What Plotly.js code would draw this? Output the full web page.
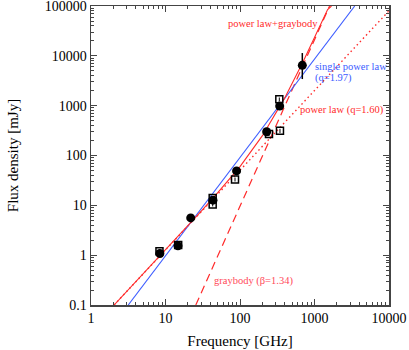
<!DOCTYPE html>
<html><head><meta charset="utf-8">
<script src="https://cdn.plot.ly/plotly-3.0.1.min.js"></script>
<style>html,body{margin:0;padding:0;background:#fff}#chart{width:409px;height:350px}</style>
</head><body><div id="chart"></div>
<script>
// Measured data (filled circles)
const circNu = [8.4, 14.7, 21.8, 43.4, 90, 228, 341, 686];
const circF  = [1.08, 1.54, 5.6, 12.7, 49, 299, 980, 6440];
const circErrPlus  = [0.08, 0.15, 0.3, 0.8, 3, 20, 60, 4940];
const circErrMinus = [0.08, 0.25, 0.3, 0.8, 3, 20, 60, 3020];
// Measured data (open squares)
const sqNu = [8.3, 14.8, 43, 43, 85.7, 245, 344, 337];
const sqF  = [1.2, 1.6, 14.1, 10.4, 33.1, 269, 313, 1340];
const sqErr = [0.1, 0.15, 1.2, 0.9, 3, 25, 30, 120];
// Model curves
const singlePLNu = [3.16, 3470];
const singlePLF  = [0.1, 100000];
const plNu = [2.04, 10000];
const plF  = [0.1, 80000];
const gbNu = [25.5, 50, 100, 200, 400, 1000, 1594];
const gbF  = [0.1, 0.95, 9.6, 97, 984, 20960, 100000];
const sumNu = [2.04, 10, 30, 50, 100, 200, 345, 400, 700, 1000, 1500, 1690];
const sumF  = [0.1, 1.27, 7.55, 17.7, 60, 250, 967, 1450, 7520, 23000, 85000, 100000];

const red = '#ff2a2a', blue = '#3c5cff';
const serif = 'Liberation Serif';
const traces = [
  {x: plNu, y: plF, mode:'lines', line:{color:red, width:1.4, dash:'1.5px,3px'}},
  {x: gbNu, y: gbF, mode:'lines', line:{color:red, width:1.2, dash:'8px,5px'}},
  {x: singlePLNu, y: singlePLF, mode:'lines', line:{color:blue, width:1.1}},
  {x: sumNu, y: sumF, mode:'lines', line:{color:red, width:1.1}},
  {x: sqNu, y: sqF, mode:'markers', marker:{symbol:'square-open', size:7, color:'#000', line:{width:1.5, color:'#000'}},
   error_y:{type:'data', array:sqErr, color:'#000', thickness:1, width:0}},
  {x: circNu, y: circF, mode:'markers', marker:{symbol:'circle', size:9, color:'#000'},
   error_y:{type:'data', symmetric:false, array:circErrPlus, arrayminus:circErrMinus, color:'#000', thickness:1.5, width:0}}
];
const tickFont = {family:serif, size:14, color:'#000'};
const axisCommon = {
  type:'log', showgrid:false, zeroline:false, showline:true, linecolor:'#444', linewidth:1.5,
  mirror:'allticks', ticks:'inside', ticklen:6, tickcolor:'#444', tickwidth:1,
  tickfont: tickFont, ticklabeloverflow:'allow',
  minor:{ticks:'inside', ticklen:3, tickcolor:'#444', dtick:'D1', showgrid:false}
};
const annFont = c => ({family:serif, size:10.5, color:c});
const layout = {
  width:409, height:350, margin:{l:91, r:20, t:6, b:45},
  paper_bgcolor:'#fff', plot_bgcolor:'#fff', showlegend:false,
  font:{family:serif},
  xaxis: Object.assign({}, axisCommon, {range:[0,4], tickvals:[1,10,100,1000,10000], ticktext:['1','10','100','1000','10000'],
    title:{text:'Frequency [GHz]', font:{family:serif, size:15, color:'#000'}, standoff:10}}),
  yaxis: Object.assign({}, axisCommon, {range:[-1,5.0001], tickvals:[0.1,1,10,100,1000,10000,100000], ticktext:['0.1','1','10','100','1000','10000','100000'],
    title:{text:'Flux density [mJy]', font:{family:serif, size:15, color:'#000'}, standoff:22}}),
  annotations: [
    {x:Math.log10(277), y:Math.log10(45000), xref:'x', yref:'y', text:'power law+graybody', showarrow:false, font:annFont(red)},
    {x:Math.log10(960), y:Math.log10(6240), xref:'x', yref:'y', text:'single power law', showarrow:false, xanchor:'left', font:annFont(blue)},
    {x:Math.log10(960), y:Math.log10(3580), xref:'x', yref:'y', text:'(q=1.97)', showarrow:false, xanchor:'left', font:annFont(blue)},
    {x:Math.log10(2340), y:Math.log10(816), xref:'x', yref:'y', text:'power law (q=1.60)', showarrow:false, font:annFont(red)},
    {x:Math.log10(152), y:Math.log10(0.305), xref:'x', yref:'y', text:'graybody (β=1.34)', showarrow:false, font:annFont('#ff4a5a')}
  ]
};
Plotly.newPlot('chart', traces, layout, {displayModeBar:false, staticPlot:true});
</script></body></html>
